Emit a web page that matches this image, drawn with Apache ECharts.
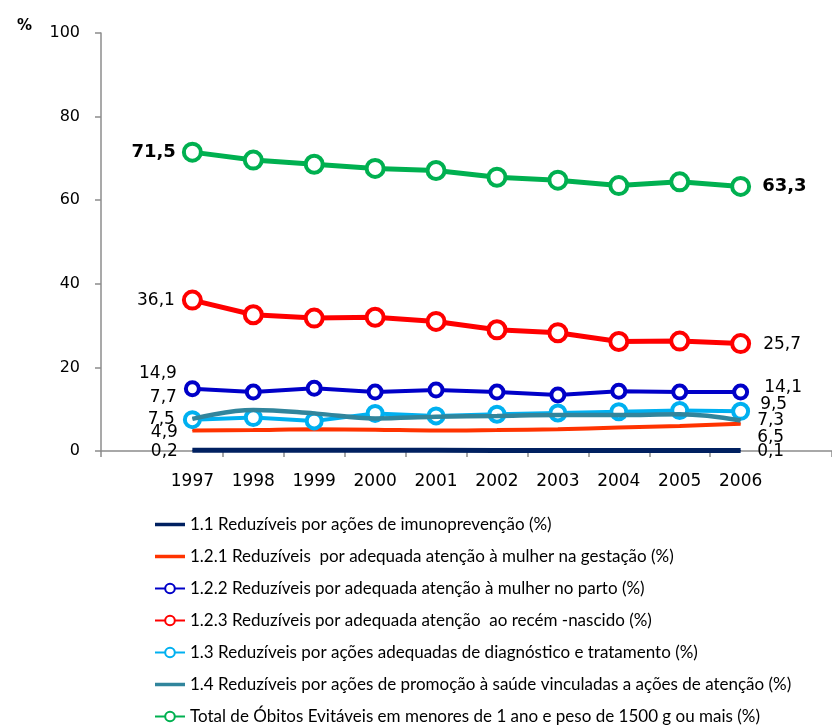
<!DOCTYPE html>
<html>
<head>
<meta charset="utf-8">
<script src="https://cdn.jsdelivr.net/npm/echarts@6/dist/echarts.min.js"></script>
<style>html,body{margin:0;padding:0;background:#fff}#c{width:832px;height:726px}</style>
</head>
<body>
<div id="c"></div>
<script>
const categories = ['1997','1998','1999','2000','2001','2002','2003','2004','2005','2006'];
const yTicks = [0, 20, 40, 60, 80, 100];

const names = [
  '1.1 Reduzíveis por ações de imunoprevenção (%)',
  '1.2.1 Reduzíveis  por adequada atenção à mulher na gestação (%)',
  '1.2.2 Reduzíveis por adequada atenção à mulher no parto (%)',
  '1.2.3 Reduzíveis por adequada atenção  ao recém -nascido (%)',
  '1.3 Reduzíveis por ações adequadas de diagnóstico e tratamento (%)',
  '1.4 Reduzíveis por ações de promoção à saúde vinculadas a ações de atenção (%)',
  'Total de Óbitos Evitáveis em menores de 1 ano e peso de 1500 g ou mais (%)'
];
const imuno     = [0.2, 0.2, 0.2, 0.2, 0.2, 0.1, 0.1, 0.1, 0.1, 0.1];
const gestacao  = [4.9, 5.0, 5.2, 5.1, 4.9, 5.0, 5.2, 5.6, 6.0, 6.5];
const parto     = [14.9, 14.1, 15.0, 14.1, 14.6, 14.1, 13.4, 14.3, 14.1, 14.1];
const recemNasc = [36.1, 32.6, 31.8, 32.0, 31.0, 29.0, 28.3, 26.2, 26.3, 25.7];
const diagTrat  = [7.5, 8.0, 7.2, 9.0, 8.4, 8.8, 9.1, 9.4, 9.7, 9.5];
const promocao  = [7.7, 9.8, 9.0, 7.8, 8.2, 8.4, 8.6, 8.6, 8.8, 7.3];
const total     = [71.5, 69.6, 68.6, 67.6, 67.1, 65.5, 64.8, 63.5, 64.4, 63.3];

const TXT = 'Lato';
const NUM = 'DejaVu Sans';
const fmt = v => v.toFixed(1).replace('.', ',');

function build(vals, startLbl, endLbl) {
  const d = ['-'];
  vals.forEach((v, i) => {
    if (i === 0) d.push({ value: v, label: Object.assign({ show: true, position: 'left', formatter: fmt(v) }, startLbl) });
    else if (i === vals.length - 1) d.push({ value: v, label: Object.assign({ show: true, position: 'right', formatter: fmt(v) }, endLbl) });
    else d.push(v);
  });
  d.push('-');
  return d;
}

const lblBase = { color: '#000', fontFamily: NUM, fontSize: 17 };
function L(extra) { return Object.assign({}, lblBase, extra); }

const seriesDefs = [
  { data: imuno, color: '#002060', width: 5, marker: false, smooth: false,
    s: L({ distance: 14, offset: [0, 1] }), e: L({ distance: 16, offset: [0, 1] }) },
  { data: gestacao, color: '#FF3300', width: 4, marker: false, smooth: 0.3,
    s: L({ distance: 14, offset: [0, 2] }), e: L({ distance: 16, offset: [0, 14] }) },
  { data: parto, color: '#0000C8', width: 4, marker: true, size: 13, smooth: false,
    s: L({ distance: 7, offset: [0, -15] }), e: L({ distance: 15, offset: [0, -4] }) },
  { data: recemNasc, color: '#FF0000', width: 5, marker: true, size: 17, smooth: false,
    s: L({ distance: 7 }), e: L({ distance: 12, offset: [0, 1] }) },
  { data: diagTrat, color: '#00B0F0', width: 4, marker: true, size: 15, smooth: false,
    s: L({ distance: 8, offset: [0, 0] }), e: L({ distance: 10, offset: [0, -7] }) },
  { data: promocao, color: '#31859C', width: 4.5, marker: false, smooth: 0.4,
    s: L({ distance: 15, offset: [0, -21] }), e: L({ distance: 16, offset: [0, 0] }) },
  { data: total, color: '#00B050', width: 5, marker: true, size: 17, smooth: false,
    s: L({ distance: 6, fontWeight: 'bold', fontSize: 18 }), e: L({ distance: 11, fontWeight: 'bold', fontSize: 18 }) }
];

const series = seriesDefs.map((d, i) => ({
  name: names[i],
  type: 'line',
  data: build(d.data, d.s, d.e),
  smooth: d.smooth,
  symbol: 'circle',
  symbolSize: d.marker ? d.size : 1,
  showSymbol: true,
  showAllSymbol: true,
  color: d.color,
  lineStyle: { color: d.color, width: d.width },
  itemStyle: d.marker
    ? { color: '#fff', borderColor: d.color, borderWidth: 4 }
    : { color: d.color, borderWidth: 0 },
  emphasis: { disabled: true },
  animation: false,
  z: 2 + i
}));

const legendData = names.map((n, i) => seriesDefs[i].marker
  ? { name: n }
  : { name: n, icon: 'path://M0,0H30V3.5H0Z' });

const chart = echarts.init(document.getElementById('c'), null, { renderer: 'canvas' });
chart.setOption({
  backgroundColor: '#fff',
  animation: false,
  title: { text: '%', left: 12, top: 14, textStyle: { fontFamily: NUM, fontSize: 15, fontWeight: 'bold', color: '#000' } },
  grid: { left: 101, top: 33, width: 740, height: 418, containLabel: false },
  xAxis: {
    type: 'category',
    data: [''].concat(categories, ['']),
    boundaryGap: true,
    axisLine: { lineStyle: { color: '#8c8c8c', width: 1.5 } },
    axisTick: { show: true, length: 6, lineStyle: { color: '#8c8c8c', width: 1.5 },
      interval: function (i) { return i !== 1 && i !== 11; } },
    axisLabel: { color: '#000', fontFamily: NUM, fontSize: 17, margin: 22, interval: 0 },
    splitLine: { show: false }
  },
  yAxis: {
    type: 'value',
    min: yTicks[0], max: yTicks[yTicks.length - 1], interval: yTicks[1] - yTicks[0],
    axisLine: { show: true, lineStyle: { color: '#8c8c8c', width: 1.5 } },
    axisTick: { show: true, length: 6, lineStyle: { color: '#8c8c8c', width: 1.5 } },
    axisLabel: { color: '#000', fontFamily: NUM, fontSize: 16, margin: 21 },
    splitLine: { show: false }
  },
  legend: {
    orient: 'vertical',
    left: 154, top: 516, height: 260,
    padding: 0,
    itemWidth: 30, itemHeight: 12, itemGap: 15,
    data: legendData,
    textStyle: { color: '#000', fontFamily: TXT, fontSize: 17 },
    selectedMode: false
  },
  series: series
});
</script>
</body>
</html>
